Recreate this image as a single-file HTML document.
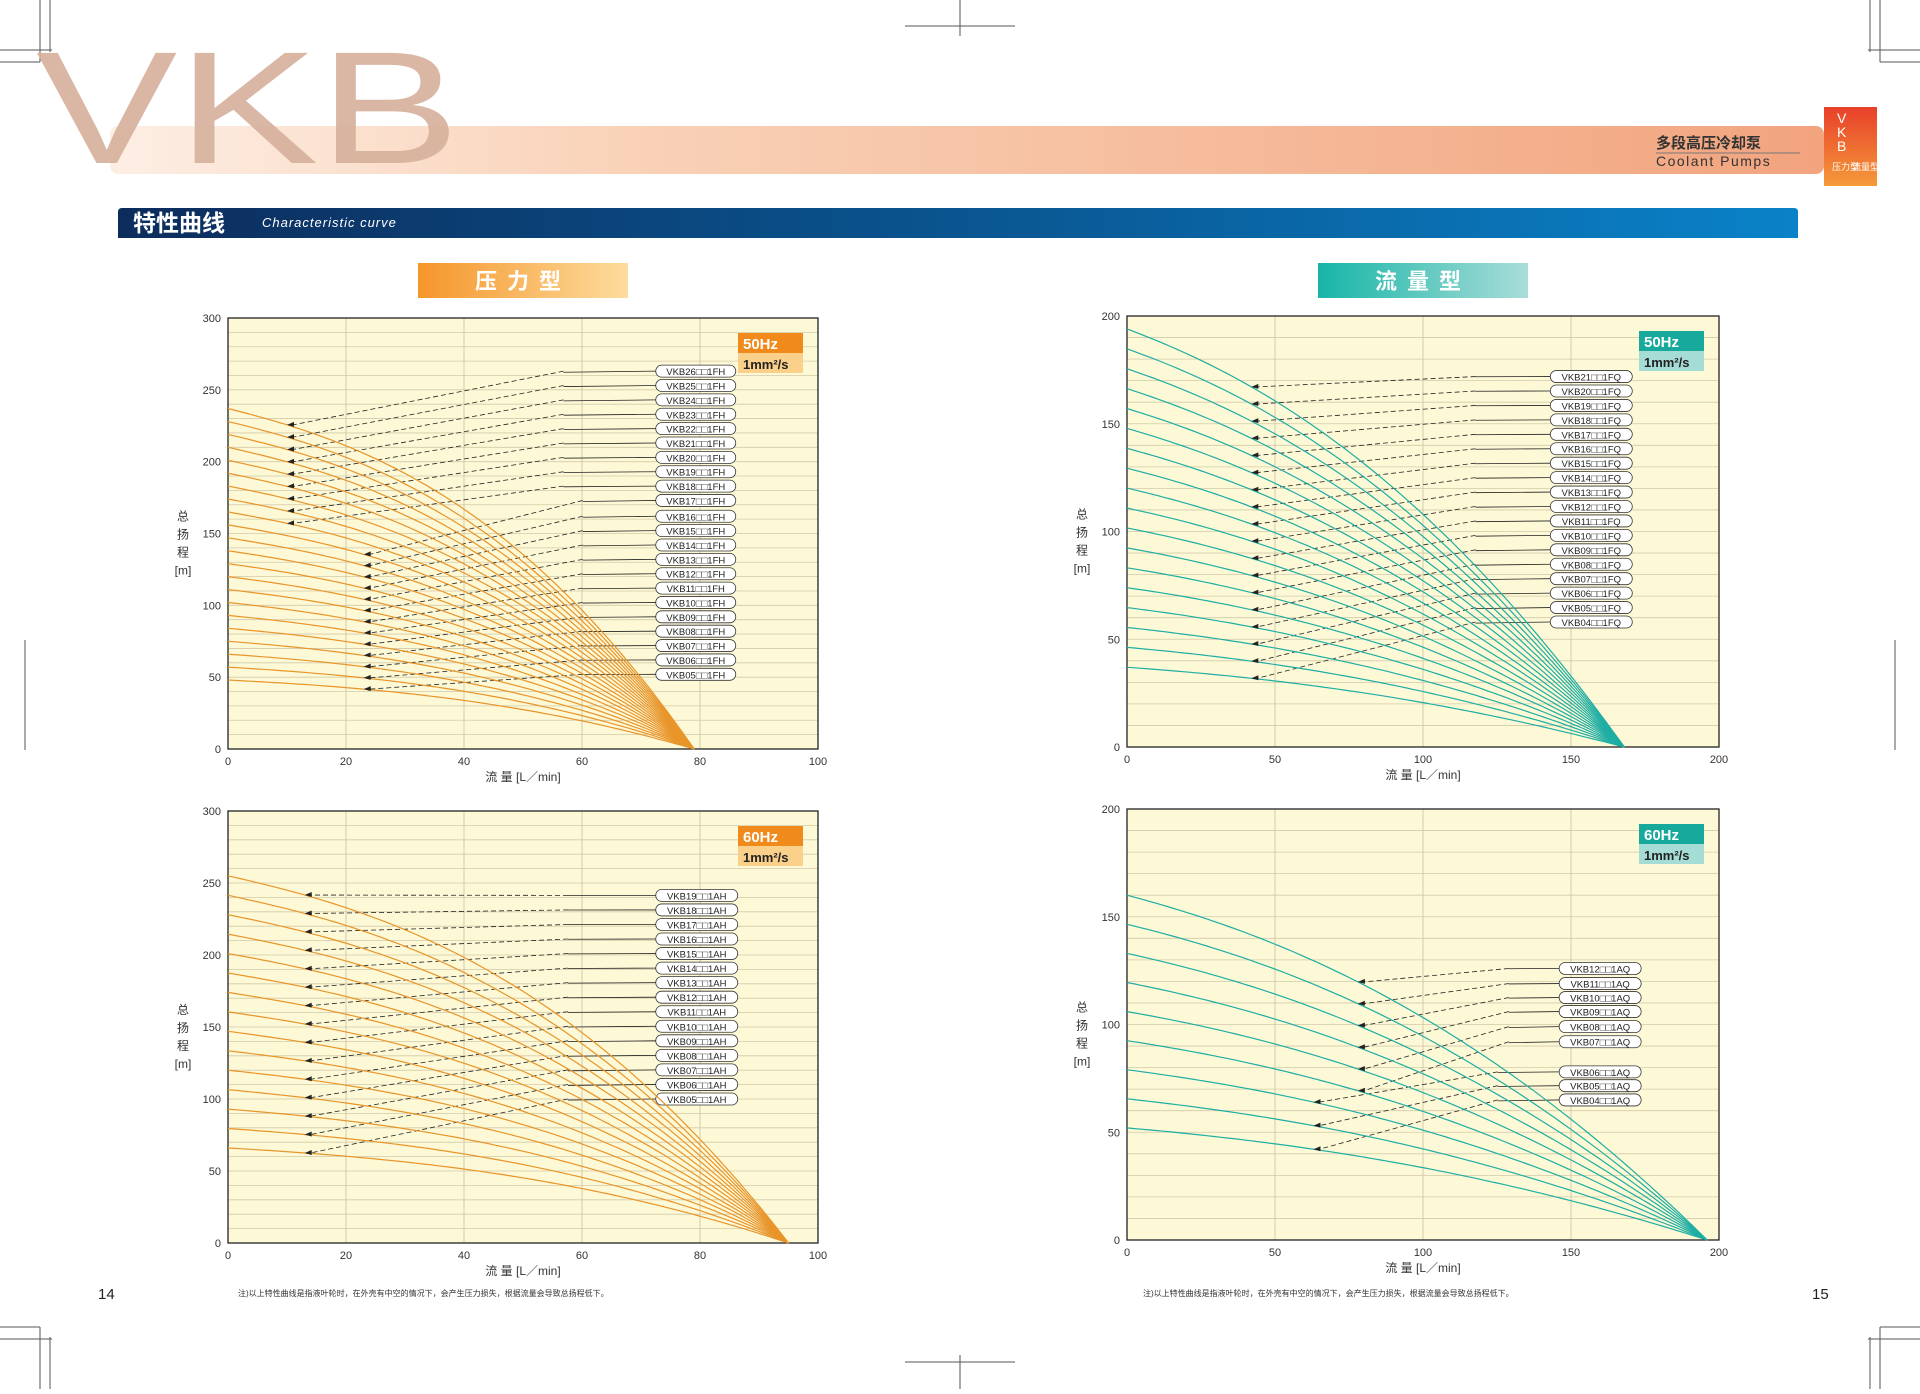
<!DOCTYPE html>
<html><head><meta charset="utf-8">
<style>
html,body{margin:0;padding:0;background:#fff;}
body{width:1920px;height:1389px;overflow:hidden;position:relative;font-family:"Liberation Sans","Noto Sans CJK SC",sans-serif;}
svg text{font-family:"Liberation Sans","Noto Sans CJK SC",sans-serif;}
</style></head><body>
<svg id="s" width="1920" height="1389" xmlns="http://www.w3.org/2000/svg">
<defs>
<linearGradient id="band" x1="0" x2="1"><stop offset="0" stop-color="#fdeee4"/><stop offset="0.3" stop-color="#f9d2b8"/><stop offset="1" stop-color="#f2a47e"/></linearGradient>
<linearGradient id="blue" x1="0" x2="1"><stop offset="0" stop-color="#0c2c5c"/><stop offset="0.5" stop-color="#0a5590"/><stop offset="1" stop-color="#0a82c8"/></linearGradient>
<linearGradient id="org" x1="0" x2="1"><stop offset="0" stop-color="#f5962a"/><stop offset="1" stop-color="#fddc9e"/></linearGradient>
<linearGradient id="teal" x1="0" x2="1"><stop offset="0" stop-color="#17b5a8"/><stop offset="1" stop-color="#a9ddd8"/></linearGradient>
<linearGradient id="tab" x1="0" y1="0" x2="0" y2="1"><stop offset="0" stop-color="#e8402a"/><stop offset="1" stop-color="#f59a3a"/></linearGradient>
</defs>
<g stroke="#555" stroke-width="1">
<line x1="50" y1="0" x2="50" y2="52"/><line x1="0" y1="50" x2="52" y2="50"/><line x1="40" y1="0" x2="40" y2="62"/><line x1="0" y1="62" x2="40" y2="62"/>
<line x1="1870" y1="0" x2="1870" y2="52"/><line x1="1868" y1="50" x2="1920" y2="50"/><line x1="1880" y1="0" x2="1880" y2="62"/><line x1="1880" y1="62" x2="1920" y2="62"/>
<line x1="960" y1="0" x2="960" y2="36"/><line x1="905" y1="26" x2="1015" y2="26"/>
<line x1="960" y1="1355" x2="960" y2="1389"/><line x1="905" y1="1362" x2="1015" y2="1362"/>
<line x1="50" y1="1337" x2="50" y2="1389"/><line x1="0" y1="1339" x2="52" y2="1339"/><line x1="40" y1="1327" x2="40" y2="1389"/><line x1="0" y1="1327" x2="40" y2="1327"/>
<line x1="1870" y1="1337" x2="1870" y2="1389"/><line x1="1868" y1="1339" x2="1920" y2="1339"/><line x1="1880" y1="1327" x2="1880" y2="1389"/><line x1="1880" y1="1327" x2="1920" y2="1327"/>
<line x1="25" y1="640" x2="25" y2="750"/><line x1="1895" y1="640" x2="1895" y2="750"/>
</g>
<rect x="110" y="126" width="1714" height="48" rx="8" fill="url(#band)"/>
<text x="36" y="163" font-size="160" fill="#d6b19c" fill-opacity="0.92" textLength="424" lengthAdjust="spacingAndGlyphs">VKB</text>
<text x="1656" y="148" font-size="15" font-weight="bold" fill="#333">多段高压冷却泵</text>
<line x1="1656" y1="153" x2="1800" y2="153" stroke="#777" stroke-width="1"/>
<text x="1656" y="166" font-size="14" fill="#333" letter-spacing="1.5">Coolant Pumps</text>
<rect x="1824" y="107" width="53" height="79" fill="url(#tab)"/>
<text x="1837" y="123" font-size="14" fill="#fff">V</text><text x="1837" y="137" font-size="14" fill="#fff">K</text><text x="1837" y="151" font-size="14" fill="#fff">B</text>
<text x="1832" y="170" font-size="9" fill="#fff">压力型</text><text x="1852" y="170" font-size="9" fill="#fff">流量型</text>
<path d="M118 212 Q118 208 122 208 L1794 208 Q1798 208 1798 212 L1798 238 L118 238 Z" fill="url(#blue)"/>
<text x="133" y="231" font-size="23" font-weight="bold" fill="#fff">特性曲线</text>
<text x="262" y="227" font-size="13" font-style="italic" fill="#fff" letter-spacing="1">Characteristic curve</text>
<rect x="418" y="263" width="210" height="35" fill="url(#org)"/>
<text x="523" y="289" font-size="22" font-weight="bold" fill="#fff" text-anchor="middle" letter-spacing="10">压力型</text>
<rect x="1318" y="263" width="210" height="35" fill="url(#teal)"/>
<text x="1423" y="289" font-size="22" font-weight="bold" fill="#fff" text-anchor="middle" letter-spacing="10">流量型</text>
<text x="98" y="1299" font-size="15" fill="#222">14</text>
<text x="1812" y="1299" font-size="15" fill="#222">15</text>
<text x="238" y="1296" font-size="8" fill="#333">注)以上特性曲线是指液叶轮时，在外壳有中空的情况下，会产生压力损失，根据流量会导致总扬程低下。</text>
<text x="1143" y="1296" font-size="8" fill="#333">注)以上特性曲线是指液叶轮时，在外壳有中空的情况下，会产生压力损失，根据流量会导致总扬程低下。</text>
<g id="charts"></g>
</svg>
<script>
var NS="http://www.w3.org/2000/svg";var G=document.getElementById("charts");
function el(t,a,txt){var e=document.createElementNS(NS,t);for(var k in a)e.setAttribute(k,a[k]);if(txt!=null)e.textContent=txt;G.appendChild(e);return e;}
function chart(o){
 var X=function(q){return o.x0+q/o.xmax*o.w},Y=function(h){return o.y0+o.h-h/o.ymax*o.h};
 el("rect",{x:o.x0,y:o.y0,width:o.w,height:o.h,fill:"#fdf8d6"});
 for(var h=10;h<o.ymax;h+=10)el("line",{x1:o.x0,x2:o.x0+o.w,y1:Y(h),y2:Y(h),stroke:"#d2cbaa","stroke-width":0.8});
 for(var q=o.xstep;q<o.xmax;q+=o.xstep)el("line",{x1:X(q),x2:X(q),y1:o.y0,y2:o.y0+o.h,stroke:"#c8c2a6","stroke-width":0.8});
 el("rect",{x:o.x0,y:o.y0,width:o.w,height:o.h,fill:"none",stroke:"#222","stroke-width":1.3});
 for(var h=0;h<=o.ymax;h+=50)el("text",{x:o.x0-7,y:Y(h)+4,"font-size":11,fill:"#333","text-anchor":"end"},h);
 for(var q=0;q<=o.xmax;q+=o.xstep)el("text",{x:X(q),y:o.y0+o.h+16,"font-size":11,fill:"#333","text-anchor":"middle"},q);
 el("text",{x:X(o.xmax/2),y:o.y0+o.h+32,"font-size":12,fill:"#333","text-anchor":"middle"},"流 量 [L／min]");
 var ly=o.y0+o.h*0.47;
 ["总","扬","程","[m]"].forEach(function(c,i){el("text",{x:o.x0-45,y:ly+i*18,"font-size":12,fill:"#333","text-anchor":"middle"},c);});
 var f=function(H0,q){var t=q/o.Q;if(t>=1)return 0;return H0*(1-o.a*t-(1-o.a)*Math.pow(t,o.p));};
 var n=o.n;
 for(var i=0;i<n;i++){var H0=o.hmin+(o.hmax-o.hmin)*i/(n-1);var d="";
  for(var s=0;s<=80;s++){var q=o.Q*s/80;d+=(s?"L":"M")+X(q).toFixed(1)+" "+Y(f(H0,q)).toFixed(1);}
  el("path",{d:d,fill:"none",stroke:o.col,"stroke-width":1.2});
  if(o.labels[i]){var L=o.labels[i];var lx=X(o.lx),yy=Y(L.y);var ax=X(L.ax),ay=Y(f(H0,L.ax));
   var mx=lx-(lx-ax)*0.25;
   el("line",{x1:lx,y1:yy,x2:mx,y2:yy-(yy-ay)*0.02,stroke:"#222","stroke-width":0.8});
   el("line",{x1:mx,y1:yy,x2:ax+6,y2:ay,stroke:"#222","stroke-width":0.8,"stroke-dasharray":"5,3"});
   el("path",{d:"M"+ax+" "+ay+" l7 -3 l0 5 z",fill:"#222"});
   el("rect",{x:lx,y:yy-6,width:o.lw,height:12,rx:6,fill:"#fff",stroke:"#333","stroke-width":0.8});
   el("text",{x:lx+o.lw/2,y:yy+4,"font-size":9.5,fill:"#222","text-anchor":"middle"},L.t);}
 }
 var bx=o.x0+o.w-o.bw-15,by=o.y0+15;
 el("rect",{x:bx,y:by,width:65,height:20,fill:o.bc1});el("rect",{x:bx,y:by+20,width:65,height:20,fill:o.bc2});
 el("text",{x:bx+5,y:by+16,"font-size":15,"font-weight":"bold",fill:"#fff"},o.hz);
 el("text",{x:bx+5,y:by+36,"font-size":13,"font-weight":"bold",fill:"#222"},"1mm²/s");
}
function pad(n){return (n<10?"0":"")+n;}
var lab=[];for(var k=5;k<=26;k++){var y=k>=17?173+(k-17)*10:52+(k-5)*10;lab.push({t:"VKB"+pad(k)+"□□1FH",y:y,ax:k>=18?10:23});}
chart({x0:228,y0:318,w:590,h:431,xmax:100,ymax:300,xstep:20,col:"#e8952a",n:22,hmin:48,hmax:237,Q:79,a:0.35,p:2.5,labels:lab,lx:72.5,lw:80,bw:65,bc1:"#f08a1a",bc2:"#fbd08a",hz:"50Hz"});
lab=[];for(var k=4;k<=21;k++){lab.push({t:"VKB"+pad(k)+"□□1FQ",y:58+(k-4)*6.7,ax:42});}
chart({x0:1127,y0:316,w:592,h:431,xmax:200,ymax:200,xstep:50,col:"#1eaea3",n:18,hmin:37,hmax:194,Q:168,a:0.45,p:2.2,labels:lab,lx:143,lw:82,bw:65,bc1:"#17a99c",bc2:"#a6dcd6",hz:"50Hz"});
lab=[];for(var k=5;k<=19;k++){lab.push({t:"VKB"+pad(k)+"□□1AH",y:100+(k-5)*10.1,ax:13});}
chart({x0:228,y0:811,w:590,h:432,xmax:100,ymax:300,xstep:20,col:"#e8952a",n:15,hmin:66,hmax:255,Q:95,a:0.35,p:2.5,labels:lab,lx:72.5,lw:82,bw:65,bc1:"#f08a1a",bc2:"#fbd08a",hz:"60Hz"});
var ys={4:65,5:71.6,6:78,7:92,8:99,9:106,10:112.5,11:119,12:126};
lab=[];for(var k=4;k<=12;k++){lab.push({t:"VKB"+pad(k)+"□□1AQ",y:ys[k],ax:k>=7?78:63});}
chart({x0:1127,y0:809,w:592,h:431,xmax:200,ymax:200,xstep:50,col:"#1eaea3",n:9,hmin:52,hmax:160,Q:196,a:0.45,p:2.2,labels:lab,lx:146,lw:82,bw:65,bc1:"#17a99c",bc2:"#a6dcd6",hz:"60Hz"});
</script>
</body></html>
